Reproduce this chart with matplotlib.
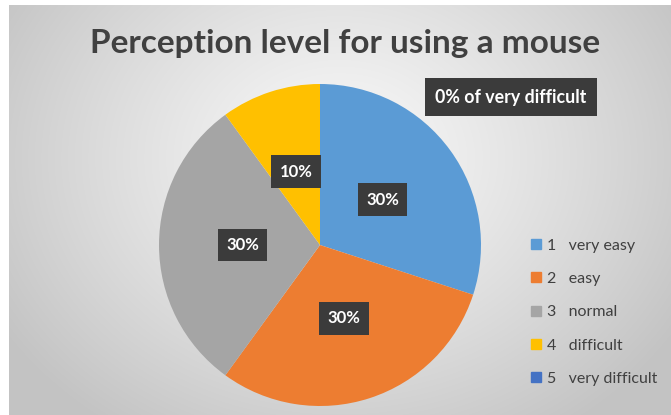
import numpy as np
import matplotlib.pyplot as plt
from matplotlib.lines import Line2D

# datos del grafico
categorias = ['very easy', 'easy', 'normal', 'difficult', 'very difficult']
numeros = ['1', '2', '3', '4', '5']
valores = [30, 30, 30, 10, 0]
colores = ['#5B9BD5', '#ED7D31', '#A5A5A5', '#FFC000', '#4472C4']
titulo = 'Perception level for using a mouse'
nota = '0% of very difficult'

plt.rcParams['font.family'] = ['Lato', 'DejaVu Sans']

W, H = 671, 415
fig = plt.figure(figsize=(W / 100, H / 100), dpi=100)
fig.patch.set_facecolor('white')

# fondo con degradado radial
bg = fig.add_axes([9 / W, 0, (W - 9) / W, (H - 5) / H])
bg.set_axis_off()
yy, xx = np.mgrid[0:400, 0:662]
d = np.sqrt(((xx - 330) / 400.0) ** 2 + ((yy - 150) / 320.0) ** 2)
d = np.clip(d, 0, 1)
grad = 0.975 - 0.21 * d ** 1.2
bg.imshow(np.dstack([grad, grad, grad]), aspect='auto', extent=[0, 1, 0, 1], origin='upper')
bg.set_xlim(0, 1)
bg.set_ylim(0, 1)

# pastel
cx, cy, r = 320, 245, 161
ax = fig.add_axes([(cx - r) / W, (H - cy - r) / H, 2 * r / W, 2 * r / H])
wedges, texts, autotexts = ax.pie(
    valores, colors=colores, startangle=90, counterclock=False,
    autopct=lambda p: f'{p:.0f}%' if p > 0 else '', pctdistance=0.48,
    wedgeprops=dict(linewidth=0),
)
ax.set_xlim(-1, 1)
ax.set_ylim(-1, 1)
ax.set_aspect('equal')
for t in autotexts:
    t.set_color('white')
    t.set_fontweight('bold')
    t.set_fontsize(12)
    t.set_bbox(dict(boxstyle='square,pad=0.5', facecolor='#3B3B3B', edgecolor='none'))

fig.text(0.5 + 10 / W, (H - 44) / H, titulo, ha='center', va='center', fontsize=24,
         fontweight='bold', color='#404040')

fig.text(511 / W, (H - 97) / H, nota, ha='center', va='center', fontsize=12.8,
         fontweight='bold', color='white',
         bbox=dict(boxstyle='square,pad=0.6', facecolor='#3B3B3B', edgecolor='none'))

handles = [Line2D([], [], marker='s', linestyle='none', markersize=7,
                  markerfacecolor=c, markeredgecolor=c) for c in colores]
labels = [f'{n}   {c}' for n, c in zip(numeros, categorias)]
leg = fig.legend(handles, labels, loc='upper left',
                 bbox_to_anchor=(523 / W, (H - 232) / H), frameon=False,
                 fontsize=11.5, labelspacing=1.2, handlelength=0.8,
                 handletextpad=0.3, borderaxespad=0)
for t in leg.get_texts():
    t.set_color('#404040')

fig.savefig('out.png', dpi=100)
